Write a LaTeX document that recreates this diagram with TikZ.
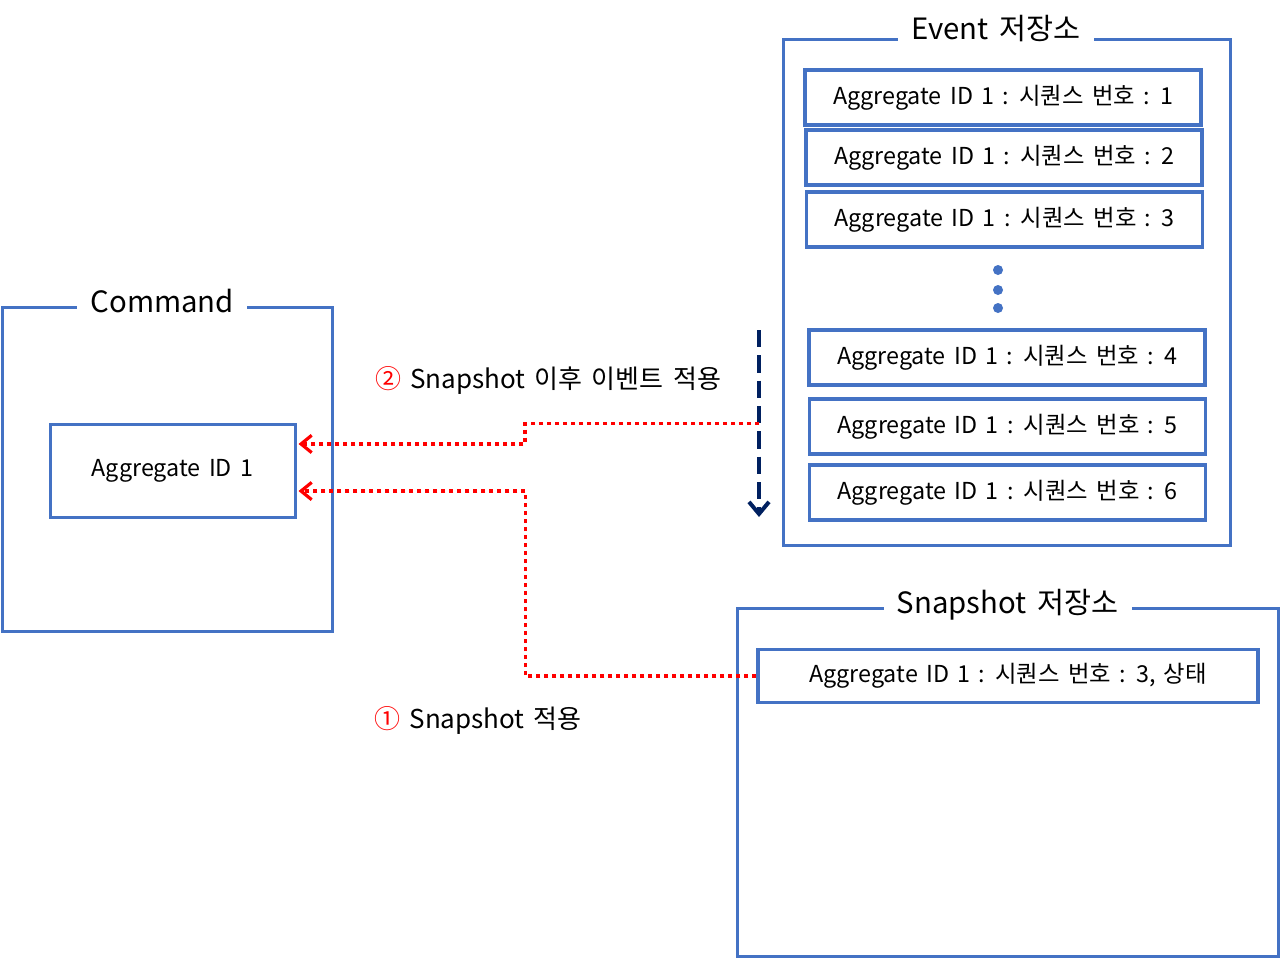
\documentclass[tikz,border=0pt]{standalone}
\usepackage{fontspec}
\setmainfont[WordSpace=1.6]{Noto Sans CJK KR}
\usepackage{xcolor}
\usetikzlibrary{calc,
	positioning,
	shapes,
	arrows.meta}
\definecolor{boxblue}{RGB}{68,114,196}
\definecolor{navy}{RGB}{0,32,96}
\definecolor{stepred}{RGB}{255,0,0}
\tikzstyle{frame}=[draw=boxblue, line width=2.25pt, inner sep=0]
\tikzstyle{title}=[fill=white, inner xsep=10pt, inner ysep=2pt, font=\fontsize{22}{26}\selectfont]
\tikzstyle{evt}=[draw=boxblue, line width=2.4pt, minimum width=297pt, minimum height=41.25pt, inner sep=0, font=\fontsize{17.5}{20}\selectfont]
\tikzstyle{dot}=[circle, fill=boxblue, inner sep=0, minimum size=7.5pt]
\tikzstyle{redpath}=[draw=stepred, line width=2.6pt, dash pattern=on 3pt off 3pt, -{Straight Barb[length=8pt, width=13pt, line width=2.4pt]}]
\tikzstyle{steplabel}=[inner sep=0, font=\fontsize{19.5}{22}\selectfont]

\begin{document}
\begin{tikzpicture}[x=0.75pt, y=-0.75pt]
                \useasboundingbox[fill=white] (0,0) rectangle (1280,958);
                % Command
                \node[frame, minimum width=247.5pt, minimum height=243pt] (cmd) at (167,469) {};
                \node[title] (cmdtitle) at ([xshift=-3.5pt, yshift=3pt]cmd.north) {Command};
                \node[frame, minimum width=183.75pt, minimum height=69.75pt, font=\fontsize{17.5}{20}\selectfont] (agg) at (172.5,470.5) {Aggregate ID 1};
                % Event store
                \node[frame, minimum width=335.25pt, minimum height=379.5pt] (evstore) at (1006.5,292) {};
                \node[title] (evtitle) at ([xshift=-8pt, yshift=7pt]evstore.north) {Event 저장소};
                \foreach \n/\x/\y in {1/1003/97.5, 2/1004/157.5, 3/1004.5/219.5, 4/1007/357.5, 5/1007.5/426.5, 6/1007.5/492.5}
                    \node[evt] (ev\n) at (\x,\y) {Aggregate ID 1 : 시퀀스 번호 : \n};
                \foreach \y [count=\i] in {270,290,308}
                    \node[dot] (dot\i) at (998,\y) {};
                % Snapshot store
                \node[frame, minimum width=405.75pt, minimum height=261pt] (snstore) at (1007.5,782) {};
                \node[title] (sntitle) at ([yshift=1pt]snstore.north) {Snapshot 저장소};
                \node[evt, minimum width=375pt, minimum height=39.75pt] (snap) at (1008,676) {Aggregate ID 1 : 시퀀스 번호 : 3, 상태};
                % replay order
                \coordinate (dashtop) at (759,330);
                \coordinate (dashbot) at (759,517);
                \draw[navy, line width=3pt, dash pattern=on 13pt off 6pt, -{Straight Barb[length=9pt, width=15pt, line width=3pt]}] (dashtop) -- (dashbot);
                % apply
                \coordinate (aggin1) at ([yshift=-15.4pt, xshift=1.5pt]agg.east);
                \coordinate (aggin2) at ([yshift=19.9pt, xshift=1.5pt]agg.east);
                \draw[redpath] (snap.west) -- ++(-231,0) |- (aggin1);
                \draw[redpath] ($(dashtop)!0.5!(dashbot)$) -- ++(-234,0) |- (aggin2);
                \node[steplabel] (step1) at (478,720) {\textcolor{stepred}{①} Snapshot 적용};
                \node[steplabel] (step2) at (548,380) {\textcolor{stepred}{②} Snapshot 이후 이벤트 적용};
            \end{tikzpicture}
\end{document}
